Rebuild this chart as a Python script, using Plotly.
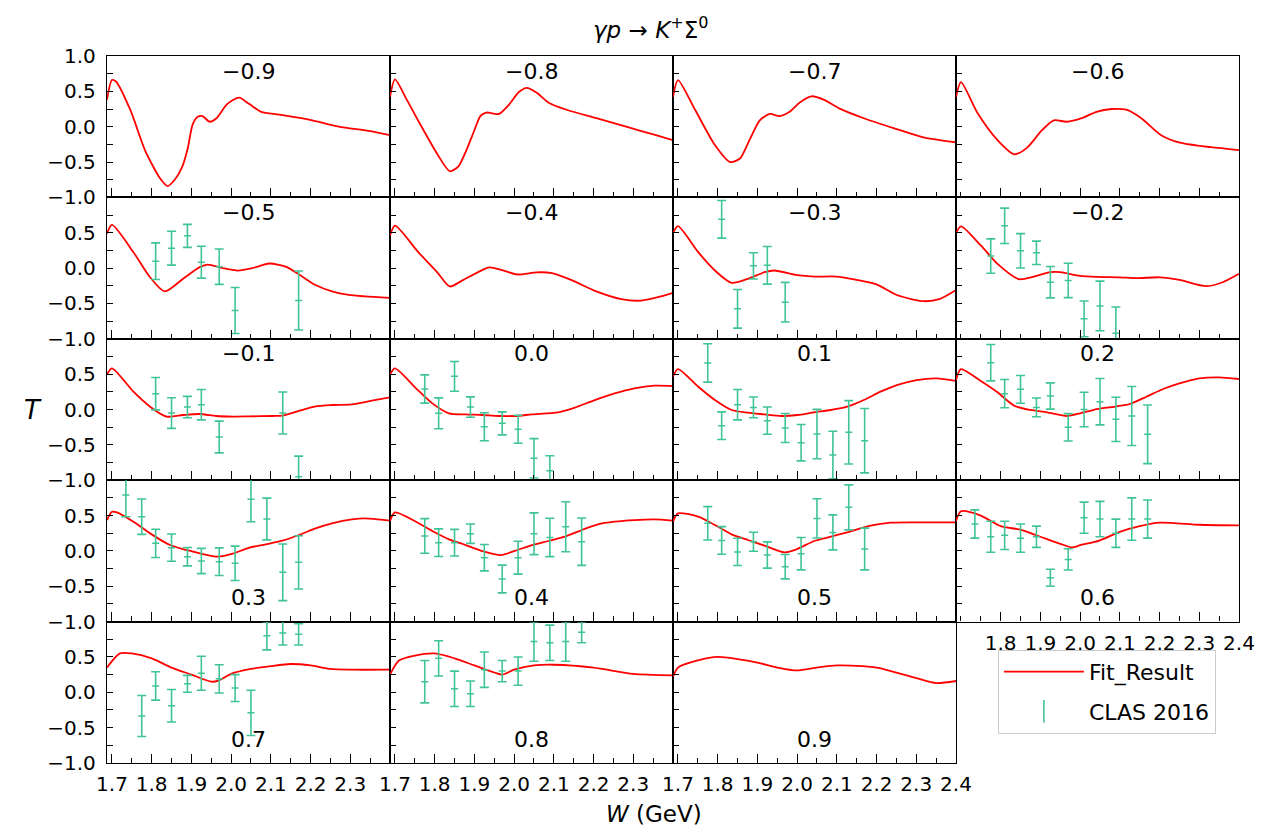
import plotly.graph_objects as go
from plotly.subplots import make_subplots

RED = "#ff0000"
GREEN = "#40c496"
FONT = "DejaVu Sans"

# cos(theta) bin labels, one panel each
cos_labels = ["−0.9", "−0.8", "−0.7", "−0.6", "−0.5", "−0.4", "−0.3", "−0.2", "−0.1",
              "0.0", "0.1", "0.2", "0.3", "0.4", "0.5", "0.6", "0.7", "0.8", "0.9"]

# ---- Fit_Result curves: T versus W (GeV) ----
fit_m09_W = [1.6875, 1.70, 1.71, 1.746, 1.783, 1.821, 1.84, 1.858, 1.876, 1.891, 1.903, 1.916, 1.928,
             1.946, 1.963, 1.99, 2.02, 2.046, 2.076, 2.121, 2.196, 2.271, 2.346, 2.40]
fit_m09_T = [0.38, 0.66, 0.64, 0.24, -0.33, -0.73, -0.84, -0.75, -0.58, -0.30, 0.03, 0.14, 0.15,
             0.07, 0.12, 0.32, 0.41, 0.32, 0.21, 0.17, 0.10, 0.0, -0.06, -0.12]

fit_m08_W = [1.6875, 1.70, 1.73, 1.758, 1.808, 1.838, 1.86, 1.88, 1.90, 1.915, 1.93, 1.944, 1.962,
             1.987, 2.012, 2.032, 2.057, 2.087, 2.132, 2.207, 2.282, 2.357, 2.40]
fit_m08_T = [0.42, 0.67, 0.38, 0.09, -0.40, -0.63, -0.56, -0.33, -0.05, 0.15, 0.20, 0.19, 0.18,
             0.31, 0.49, 0.55, 0.48, 0.34, 0.24, 0.12, 0.0, -0.12, -0.19]

fit_m07_W = [1.6875, 1.70, 1.743, 1.793, 1.831, 1.856, 1.88, 1.906, 1.931, 1.956, 1.981, 2.006,
             2.036, 2.068, 2.106, 2.168, 2.243, 2.318, 2.40]
fit_m07_T = [0.42, 0.66, 0.24, -0.26, -0.50, -0.45, -0.19, 0.09, 0.18, 0.15, 0.21, 0.34,
             0.43, 0.38, 0.26, 0.12, -0.02, -0.15, -0.22]

fit_m06_W = [1.6875, 1.70, 1.742, 1.792, 1.834, 1.866, 1.904, 1.934, 1.966, 2.004, 2.041, 2.079,
             2.116, 2.154, 2.204, 2.254, 2.329, 2.40]
fit_m06_T = [0.42, 0.63, 0.19, -0.19, -0.39, -0.30, -0.05, 0.09, 0.07, 0.12, 0.21, 0.25,
             0.24, 0.12, -0.12, -0.23, -0.29, -0.33]

fit_m05_W = [1.6875, 1.70, 1.754, 1.796, 1.833, 1.879, 1.921, 1.941, 1.979, 2.017, 2.054, 2.096,
             2.1375, 2.171, 2.2125, 2.254, 2.296, 2.337, 2.40]
fit_m05_T = [0.49, 0.61, 0.225, -0.13, -0.33, -0.15, 0.013, 0.05, 0.0, -0.035, 0.0, 0.065,
             0.02, -0.09, -0.24, -0.33, -0.38, -0.40, -0.42]

fit_m04_W = [1.6875, 1.70, 1.758, 1.808, 1.838, 1.871, 1.908, 1.938, 1.97, 2.008, 2.057, 2.095,
             2.145, 2.207, 2.27, 2.32, 2.37, 2.40]
fit_m04_T = [0.46, 0.60, 0.23, -0.07, -0.26, -0.17, -0.06, 0.01, -0.03, -0.09, -0.06, -0.07,
             -0.17, -0.33, -0.44, -0.46, -0.40, -0.35]

fit_m03_W = [1.6875, 1.70, 1.751, 1.793, 1.835, 1.876, 1.918, 1.943, 2.0, 2.043, 2.10, 2.15,
             2.20, 2.251, 2.318, 2.36, 2.40]
fit_m03_T = [0.494, 0.593, 0.225, -0.034, -0.209, -0.152, -0.058, -0.034, -0.10, -0.12, -0.12, -0.167,
             -0.23, -0.38, -0.468, -0.435, -0.31]

fit_m02_W = [1.6875, 1.70, 1.75, 1.792, 1.846, 1.884, 1.925, 1.95, 2.0, 2.042, 2.10, 2.142,
             2.20, 2.25, 2.317, 2.359, 2.40]
fit_m02_T = [0.494, 0.59, 0.32, 0.06, -0.157, -0.12, -0.058, -0.058, -0.11, -0.124, -0.13, -0.143,
             -0.13, -0.167, -0.256, -0.20, -0.08]

fit_m01_W = [1.6875, 1.70, 1.754, 1.796, 1.8375, 1.879, 1.921, 1.9625, 2.004, 2.046, 2.104, 2.129,
             2.171, 2.2125, 2.254, 2.304, 2.354, 2.40]
fit_m01_T = [0.497, 0.582, 0.252, 0.04, -0.10, -0.078, -0.064, -0.092, -0.10, -0.097, -0.092, -0.087,
             -0.02, 0.045, 0.064, 0.073, 0.125, 0.172]

fit_p00_W = [1.6875, 1.70, 1.753, 1.794, 1.836, 1.878, 1.92, 1.961, 2.003, 2.045, 2.111, 2.153,
             2.203, 2.253, 2.303, 2.353, 2.40]
fit_p00_T = [0.497, 0.582, 0.30, 0.087, -0.054, -0.069, -0.078, -0.092, -0.092, -0.069, -0.04, 0.026,
             0.134, 0.229, 0.30, 0.337, 0.332]

fit_p01_W = [1.6875, 1.70, 1.751, 1.793, 1.835, 1.876, 1.918, 1.96, 2.0, 2.043, 2.085, 2.126,
             2.168, 2.21, 2.251, 2.301, 2.351, 2.40]
fit_p01_T = [0.464, 0.572, 0.322, 0.134, -0.007, -0.045, -0.069, -0.092, -0.078, -0.04, -0.007, 0.04,
             0.134, 0.252, 0.346, 0.417, 0.44, 0.405]

fit_p02_W = [1.6875, 1.70, 1.75, 1.792, 1.834, 1.875, 1.917, 1.967, 2.0, 2.042, 2.092, 2.125,
             2.167, 2.209, 2.25, 2.30, 2.35, 2.40]
fit_p02_T = [0.417, 0.572, 0.403, 0.243, 0.054, -0.007, -0.04, -0.092, -0.054, 0.007, 0.045, 0.078,
             0.181, 0.29, 0.37, 0.44, 0.455, 0.431]

fit_p03_W = [1.6875, 1.70, 1.7125, 1.754, 1.796, 1.846, 1.8875, 1.921, 1.968, 2.004, 2.046, 2.0875,
             2.129, 2.171, 2.2125, 2.254, 2.304, 2.3375, 2.40]
fit_p03_T = [0.437, 0.554, 0.545, 0.413, 0.248, 0.083, 0.013, -0.035, -0.082, -0.04, 0.046, 0.093,
             0.145, 0.225, 0.319, 0.39, 0.446, 0.46, 0.427]

fit_p04_W = [1.6875, 1.70, 1.753, 1.794, 1.836, 1.878, 1.92, 1.967, 2.003, 2.045, 2.086, 2.128,
             2.17, 2.211, 2.253, 2.303, 2.353, 2.40]
fit_p04_T = [0.423, 0.545, 0.413, 0.281, 0.163, 0.083, -0.002, -0.059, 0.003, 0.083, 0.14, 0.201,
             0.295, 0.375, 0.413, 0.436, 0.446, 0.427]

fit_p05_W = [1.6875, 1.70, 1.751, 1.793, 1.835, 1.876, 1.918, 1.968, 2.0, 2.043, 2.085, 2.126,
             2.185, 2.235, 2.301, 2.351, 2.40]
fit_p05_T = [0.413, 0.531, 0.484, 0.366, 0.234, 0.154, 0.074, -0.021, 0.026, 0.14, 0.201, 0.262,
             0.357, 0.399, 0.404, 0.404, 0.404]

fit_p06_W = [1.6875, 1.70, 1.75, 1.80, 1.85, 1.90, 1.95, 1.98, 2.0, 2.05, 2.10, 2.15, 2.20, 2.30, 2.40]
fit_p06_T = [0.42, 0.56, 0.50, 0.35, 0.30, 0.20, 0.10, 0.05, 0.08, 0.15, 0.27, 0.35, 0.40, 0.37, 0.36]

fit_p07_W = [1.6875, 1.72, 1.75, 1.80, 1.85, 1.90, 1.95, 1.97, 2.0, 2.05, 2.10, 2.15, 2.20, 2.25, 2.30, 2.40]
fit_p07_T = [0.35, 0.55, 0.55, 0.48, 0.35, 0.25, 0.15, 0.17, 0.26, 0.33, 0.37, 0.40, 0.38, 0.33, 0.32, 0.32]

fit_p08_W = [1.6875, 1.71, 1.75, 1.80, 1.85, 1.90, 1.95, 1.97, 2.0, 2.05, 2.10, 2.20, 2.30, 2.40]
fit_p08_T = [0.25, 0.45, 0.52, 0.55, 0.48, 0.38, 0.28, 0.25, 0.32, 0.38, 0.39, 0.35, 0.26, 0.24]

fit_p09_W = [1.6875, 1.70, 1.75, 1.80, 1.85, 1.90, 1.95, 2.0, 2.05, 2.10, 2.20, 2.30, 2.35, 2.40]
fit_p09_T = [0.22, 0.35, 0.45, 0.50, 0.47, 0.42, 0.35, 0.31, 0.35, 0.38, 0.35, 0.20, 0.13, 0.16]

# ---- CLAS 2016 measurements: W (GeV), T, error ----
clas_W = [1.775, 1.81, 1.85, 1.89, 1.925, 1.97, 2.01, 2.05, 2.09, 2.13, 2.17]

clas_m05_W = [1.81, 1.85, 1.89, 1.925, 1.97, 2.01, 2.17]
clas_m05_T = [0.098, 0.282, 0.456, 0.084, 0.02, -0.60, -0.458]
clas_m05_E = [0.259, 0.24, 0.163, 0.226, 0.25, 0.325, 0.417]

clas_m03_W = [1.81, 1.85, 1.89, 1.925, 1.97]
clas_m03_T = [0.69, -0.576, 0.032, 0.04, -0.482]
clas_m03_E = [0.266, 0.273, 0.186, 0.266, 0.28]

clas_m02_W = [1.775, 1.81, 1.85, 1.89, 1.925, 1.97, 2.01, 2.05, 2.09]
clas_m02_T = [0.171, 0.598, 0.244, 0.216, -0.199, -0.175, -0.718, -0.535, -0.92]
clas_m02_E = [0.243, 0.25, 0.243, 0.165, 0.222, 0.243, 0.252, 0.351, 0.37]

clas_m01_W = [1.81, 1.85, 1.89, 1.925, 1.97, 2.13, 2.17]
clas_m01_T = [0.224, -0.05, 0.035, 0.068, -0.389, -0.05, -0.95]
clas_m01_E = [0.229, 0.217, 0.151, 0.215, 0.224, 0.297, 0.29]

clas_p00_W = [1.775, 1.81, 1.85, 1.89, 1.925, 1.97, 2.01, 2.05, 2.09]
clas_p00_T = [0.29, -0.054, 0.469, 0.035, -0.243, -0.196, -0.28, -0.69, -0.865]
clas_p00_E = [0.2, 0.219, 0.21, 0.144, 0.198, 0.163, 0.198, 0.278, 0.21]

clas_p01_T = [0.658, -0.229, 0.068, 0.03, -0.158, -0.262, -0.469, -0.347, -0.644, -0.323, -0.441]
clas_p01_E = [0.271, 0.196, 0.215, 0.146, 0.193, 0.205, 0.257, 0.349, 0.337, 0.448, 0.455]

clas_p02_T = [0.662, 0.224, 0.285, 0.03, 0.191, -0.252, 0.0, 0.11, -0.139, -0.092, -0.351]
clas_p02_E = [0.257, 0.2, 0.196, 0.132, 0.186, 0.193, 0.243, 0.328, 0.313, 0.417, 0.415]

clas_p03_W = [1.735, 1.775, 1.81, 1.85, 1.89, 1.925, 1.97, 2.01, 2.05, 2.09, 2.13, 2.17]
clas_p03_T = [0.79, 0.484, 0.107, 0.046, -0.082, -0.143, -0.153, -0.176, 0.729, 0.451, -0.303, -0.162]
clas_p03_E = [0.306, 0.25, 0.2, 0.193, 0.13, 0.179, 0.196, 0.243, 0.316, 0.295, 0.4, 0.377]

clas_p04_T = [0.211, 0.116, 0.116, 0.243, -0.096, -0.397, -0.096, 0.243, 0.19, 0.342, 0.13]
clas_p04_E = [0.245, 0.196, 0.189, 0.137, 0.186, 0.196, 0.233, 0.295, 0.271, 0.354, 0.335]

clas_p05_T = [0.39, 0.148, -0.014, 0.13, -0.058, -0.223, -0.04, 0.46, 0.262, 0.616, 0.027]
clas_p05_E = [0.236, 0.196, 0.193, 0.134, 0.186, 0.172, 0.229, 0.278, 0.248, 0.318, 0.295]

clas_p06_W = [1.735, 1.775, 1.81, 1.85, 1.89, 1.925, 1.97, 2.01, 2.05, 2.09, 2.13, 2.17]
clas_p06_T = [0.38, 0.2, 0.22, 0.18, 0.2, -0.38, -0.12, 0.47, 0.45, 0.25, 0.45, 0.45]
clas_p06_E = [0.2, 0.22, 0.2, 0.2, 0.15, 0.12, 0.15, 0.22, 0.25, 0.2, 0.3, 0.27]

clas_p07_T = [-0.335, 0.09, -0.19, 0.12, 0.27, 0.19, 0.06, -0.29, 0.8, 0.84, 0.82]
clas_p07_E = [0.29, 0.2, 0.23, 0.12, 0.24, 0.2, 0.19, 0.32, 0.2, 0.17, 0.15]

clas_p08_T = [0.15, 0.48, 0.05, -0.02, 0.32, 0.3, 0.3, 0.72, 0.7, 0.72, 0.85]
clas_p08_E = [0.3, 0.25, 0.25, 0.18, 0.25, 0.15, 0.2, 0.28, 0.25, 0.28, 0.15]

# x tick values for the W axes
w_ticks = [1.7, 1.8, 1.9, 2.0, 2.1, 2.2, 2.3, 2.4]
# y tick values for T
t_ticks = [-1.0, -0.5, 0.0, 0.5, 1.0]
t_ticktext = ["−1.0", "−0.5", "0.0", "0.5", "1.0"]

fits = [
    (fit_m09_W, fit_m09_T), (fit_m08_W, fit_m08_T), (fit_m07_W, fit_m07_T), (fit_m06_W, fit_m06_T),
    (fit_m05_W, fit_m05_T), (fit_m04_W, fit_m04_T), (fit_m03_W, fit_m03_T), (fit_m02_W, fit_m02_T),
    (fit_m01_W, fit_m01_T), (fit_p00_W, fit_p00_T), (fit_p01_W, fit_p01_T), (fit_p02_W, fit_p02_T),
    (fit_p03_W, fit_p03_T), (fit_p04_W, fit_p04_T), (fit_p05_W, fit_p05_T), (fit_p06_W, fit_p06_T),
    (fit_p07_W, fit_p07_T), (fit_p08_W, fit_p08_T), (fit_p09_W, fit_p09_T),
]
measurements = [
    None, None, None, None,
    (clas_m05_W, clas_m05_T, clas_m05_E), None,
    (clas_m03_W, clas_m03_T, clas_m03_E), (clas_m02_W, clas_m02_T, clas_m02_E),
    (clas_m01_W, clas_m01_T, clas_m01_E), (clas_p00_W, clas_p00_T, clas_p00_E),
    (clas_W, clas_p01_T, clas_p01_E), (clas_W, clas_p02_T, clas_p02_E),
    (clas_p03_W, clas_p03_T, clas_p03_E), (clas_W, clas_p04_T, clas_p04_E),
    (clas_W, clas_p05_T, clas_p05_E), (clas_p06_W, clas_p06_T, clas_p06_E),
    (clas_W, clas_p07_T, clas_p07_E), (clas_W, clas_p08_T, clas_p08_E), None,
]

NROWS, NCOLS = 5, 4
fig = make_subplots(rows=NROWS, cols=NCOLS, horizontal_spacing=0, vertical_spacing=0)

for i, ((fw, ft), meas) in enumerate(zip(fits, measurements)):
    r, c = i // NCOLS + 1, i % NCOLS + 1
    fig.add_trace(go.Scatter(x=fw, y=ft, mode="lines",
                             line=dict(color=RED, width=1.8, shape="spline", smoothing=0.7),
                             name="Fit_Result", showlegend=False, legendgroup="fit"),
                  row=r, col=c)
    if meas is not None:
        mw, mt, me = meas
        fig.add_trace(go.Scatter(x=mw, y=mt, mode="markers",
                                 marker=dict(symbol="line-ew", size=5, color=GREEN,
                                             line=dict(color=GREEN, width=1.5)),
                                 error_y=dict(type="data", array=me, visible=True,
                                              color=GREEN, thickness=1.6, width=4.5),
                                 name="CLAS 2016", showlegend=False, legendgroup="clas"),
                      row=r, col=c)

# legend entries
fig.add_trace(go.Scatter(x=[None], y=[None], mode="lines", line=dict(color=RED, width=1.8),
                         name="Fit_Result", legendgroup="fit", showlegend=True), row=1, col=1)
fig.add_trace(go.Scatter(x=[None], y=[None], mode="markers",
                         marker=dict(symbol="line-ns", size=16, color=GREEN,
                                     line=dict(color=GREEN, width=1.6)),
                         name="CLAS 2016", legendgroup="clas", showlegend=True), row=1, col=1)

tick_font = dict(family=FONT, size=20, color="black")
for r in range(1, NROWS + 1):
    for c in range(1, NCOLS + 1):
        idx = (r - 1) * NCOLS + c - 1
        if idx >= len(fits):
            fig.update_xaxes(visible=False, row=r, col=c)
            fig.update_yaxes(visible=False, row=r, col=c)
            continue
        bottom = (r == NROWS) or (r == NROWS - 1 and c == NCOLS)
        if c == NCOLS:
            xt = w_ticks[1:]
        elif r == NROWS and c == NCOLS - 1:
            xt = w_ticks
        else:
            xt = w_ticks[:-1]
        fig.update_xaxes(row=r, col=c, range=[1.6875, 2.4], showgrid=False, zeroline=False,
                         showline=True, linecolor="black", linewidth=1.3, mirror=True,
                         ticks="inside", ticklen=9, tickwidth=1.2, tickcolor="black",
                         tickmode="array", tickvals=xt, ticktext=[f"{v:.1f}" for v in xt],
                         showticklabels=bottom, tickfont=tick_font, ticklabelstandoff=3,
                         minor=dict(ticks="inside", ticklen=5, tickwidth=1.2, tickcolor="black",
                                    tickmode="linear", tick0=1.65, dtick=0.05, showgrid=False))
        yt = t_ticks if r == 1 else t_ticks[:-1]
        ytt = t_ticktext if r == 1 else t_ticktext[:-1]
        fig.update_yaxes(row=r, col=c, range=[-1.0, 1.0], showgrid=False, zeroline=False,
                         showline=True, linecolor="black", linewidth=1.3, mirror=True,
                         ticks="inside", ticklen=6, tickwidth=1.2, tickcolor="black",
                         tickmode="array", tickvals=yt, ticktext=ytt,
                         showticklabels=(c == 1), tickfont=tick_font, ticklabelstandoff=6,
                         minor=dict(ticks="inside", ticklen=6, tickwidth=1.2, tickcolor="black",
                                    tickmode="linear", tick0=-1.0, dtick=0.25, showgrid=False))

# cos(theta) labels inside each panel
for i, lab in enumerate(cos_labels):
    r = i // NCOLS + 1
    n = i + 1
    suffix = "" if n == 1 else str(n)
    top = r <= 3
    fig.add_annotation(text=lab, xref=f"x{suffix} domain", yref=f"y{suffix} domain",
                       x=0.5, y=0.893 if top else 0.167, xanchor="center", yanchor="middle",
                       showarrow=False, font=dict(family=FONT, size=22, color="black"))

fig.add_annotation(text="<i>γp</i> → <i>K</i><sup>+</sup>Σ<sup>0</sup>", xref="paper", yref="paper",
                   x=0.481, y=1.0396, xanchor="center", yanchor="middle", showarrow=False,
                   font=dict(family=FONT, size=23, color="black"))
fig.add_annotation(text="<i>T</i>", xref="paper", yref="paper", x=-0.0657, y=0.4993,
                   xanchor="center", yanchor="middle", showarrow=False,
                   font=dict(family=FONT, size=26, color="black"))
fig.add_annotation(text="<i>W</i> (GeV)", xref="paper", yref="paper", x=0.483, y=-0.0721,
                   xanchor="center", yanchor="middle", showarrow=False,
                   font=dict(family=FONT, size=23, color="black"))

fig.update_layout(
    width=1267, height=830,
    margin=dict(l=107, r=19, t=56, b=67),
    plot_bgcolor="white", paper_bgcolor="white",
    font=dict(family=FONT, size=20, color="black"),
    showlegend=True,
    legend=dict(x=0.787, y=0.16, xanchor="left", yanchor="top",
                bgcolor="white", bordercolor="#cccccc", borderwidth=1,
                font=dict(family=FONT, size=22, color="black"),
                traceorder="grouped", tracegroupgap=8, itemwidth=80),
)

fig.write_html("out.html")
